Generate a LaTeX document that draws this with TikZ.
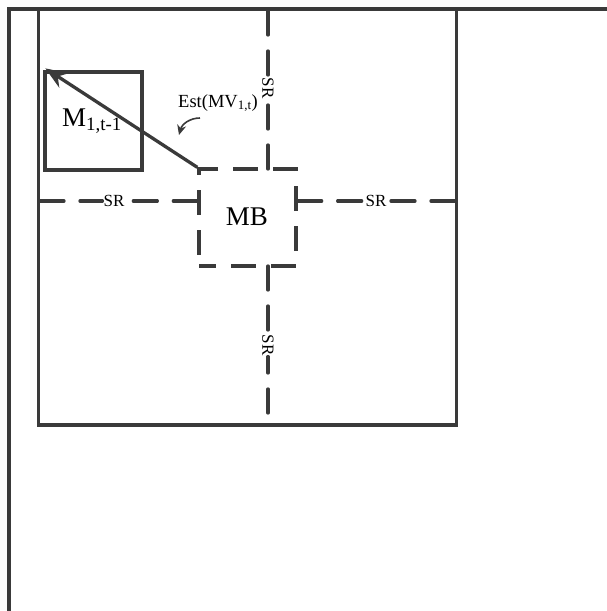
\documentclass[tikz,border=0pt]{standalone}
\usepackage{fontspec}
\setmainfont{Liberation Serif}
\usetikzlibrary{arrows.meta}
\definecolor{ink}{HTML}{3A3A3A}
\tikzset{
  frame/.style={draw=ink, line width=3.3pt},
  solidbox/.style={draw=ink, line width=3.3pt, rectangle, minimum width=97pt, minimum height=98pt, inner sep=0pt},
  dashbox/.style={draw=ink, line width=3.3pt, rectangle, minimum width=97pt, minimum height=97pt, inner sep=0pt, dash pattern=on 25pt off 15pt, dash phase=8pt},
  srline/.style={draw=ink, line width=3.3pt, line cap=round, dash pattern=on 24pt off 16pt},
  srlabel/.style={font=\fontsize{17}{17}\selectfont, inner sep=1pt, text=black},
  bigtxt/.style={font=\fontsize{27}{27}\selectfont, text=black},
}
\begin{document}
\begin{tikzpicture}[x=1pt,y=-1pt]
\useasboundingbox (0,0) rectangle (607,611);
% outer frame
\coordinate (obl) at (9,612);
\coordinate (otl) at (9,9);
\coordinate (otr) at (608,9);
\draw[frame] (obl) -- (otl) -- (otr);
% inner search window
\node[frame, rectangle, minimum width=418pt, minimum height=416pt, inner sep=0pt] (win) at (247.5,217) {};
% boxes
\node[solidbox] (m) at (93.5,121) {};
\node[bigtxt] (mt) at (92,121) {M\textsubscript{1,t-1}};
\node[dashbox] (mb) at (247.5,217.5) {};
\node[bigtxt] (mbt) at (247,217) {MB};
% SR lines and labels
\coordinate (wl) at (40,201);
\coordinate (wr) at (455,201);
\coordinate (wt) at (268,11);
\coordinate (wb) at (268,413);
\coordinate (mbl) at (mb.west |- 0,201);
\coordinate (mbr) at (mb.east |- 0,201);
\coordinate (mbtop) at (268,169);
\coordinate (mbbot) at (268,266);
\node[srlabel] (srl) at (114,201) {SR};
\node[srlabel] (srr) at (376,201) {SR};
\node[srlabel, rotate=-90] (srt) at (268,88) {SR};
\node[srlabel, rotate=-90] (srb) at (268,345) {SR};
\draw[srline] (wl) -- (srl.west);
\draw[srline] (mbl) -- (srl.east);
\draw[srline] (mbr) -- (srr.west);
\draw[srline] (wr) -- (srr.east);
\draw[srline] (wt) -- (srt.west);
\draw[srline] (mbtop) -- (srt.east);
\draw[srline] (mbbot) -- (srb.west);
\draw[srline] (wb) -- (srb.east);
% motion vector arrow
\draw[draw=ink, line width=3.3pt, -{Stealth[length=22pt,width=17pt]}, fill=ink] (mb.north west) -- ([shift={(2pt,2pt)}]m.north west);
% estimate label
\node[font=\fontsize{18.5}{18.5}\selectfont, text=black] (est) at (218,103) {Est(MV\textsubscript{1,t})};
\coordinate (ca) at (200,118);
\coordinate (cb) at (179,135);
\draw[draw=ink, line width=1.6pt, -{Stealth[length=10pt,width=9pt]}, fill=none] (ca) .. controls (190,118) and (182,124) .. (cb);
\end{tikzpicture}
\end{document}
